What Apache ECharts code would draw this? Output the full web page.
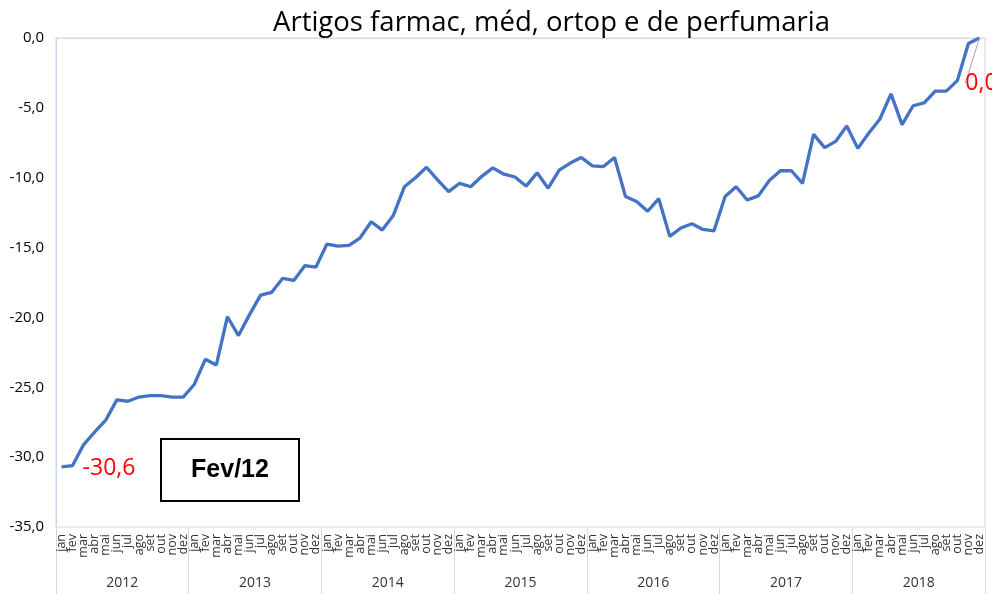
<!DOCTYPE html>
<html>
<head>
<meta charset="utf-8">
<script src="https://cdn.jsdelivr.net/npm/echarts@6/dist/echarts.min.js"></script>
<style>
html,body{margin:0;padding:0;background:#fff;}
#chart{width:992px;height:594px;}
</style>
</head>
<body>
<div id="chart"></div>
<script>
const titleText = 'Artigos farmac, méd, ortop e de perfumaria';
const monthNames = ['jan','fev','mar','abr','mai','jun','jul','ago','set','out','nov','dez'];
const years = ['2012','2013','2014','2015','2016','2017','2018'];
const yTicks = { min: -35, max: 0, interval: 5 };

const v2012 = [-30.7, -30.6, -29.1, -28.2, -27.35, -25.9, -26.0, -25.7, -25.6, -25.6, -25.7, -25.7];
const v2013 = [-24.8, -23.0, -23.4, -19.95, -21.3, -19.8, -18.4, -18.2, -17.2, -17.35, -16.3, -16.4];
const v2014 = [-14.75, -14.9, -14.85, -14.3, -13.15, -13.75, -12.7, -10.65, -10.0, -9.25, -10.15, -11.0];
const v2015 = [-10.4, -10.65, -9.9, -9.3, -9.75, -9.95, -10.6, -9.65, -10.75, -9.45, -8.95, -8.55];
const v2016 = [-9.15, -9.2, -8.55, -11.35, -11.7, -12.4, -11.5, -14.2, -13.6, -13.3, -13.7, -13.8];
const v2017 = [-11.35, -10.65, -11.6, -11.3, -10.2, -9.5, -9.5, -10.4, -6.9, -7.85, -7.4, -6.3];
const v2018 = [-7.9, -6.8, -5.8, -4.0, -6.2, -4.85, -4.65, -3.8, -3.8, -3.05, -0.4, 0.0];

const firstLabelIndex = 1;
const lastLabelIndex = 83;
const boxText = 'Fev/12';

const values = [].concat(v2012, v2013, v2014, v2015, v2016, v2017, v2018);
const categories = [];
years.forEach(() => monthNames.forEach(m => categories.push(m)));

const fmt = v => v.toFixed(1).replace('.', ',').replace('-0,0', '0,0');

const chart = echarts.init(document.getElementById('chart'));
const gridL = 56, gridR = 7, gridT = 38, gridB = 67;
const redLabel = { color: '#ff0000', fontSize: 23, fontFamily: 'Open Sans', opacity: 1 };

chart.setOption({
  animation: false,
  title: {
    text: titleText,
    left: 268, top: 4,
    textStyle: { fontFamily: 'Open Sans', fontWeight: 'normal', fontSize: 27.5, color: '#000' }
  },
  grid: { left: gridL, right: gridR, top: gridT, bottom: gridB, show: true, borderColor: '#d9d9d9', borderWidth: 1 },
  xAxis: [
    {
      type: 'category', data: categories, boundaryGap: true, position: 'bottom',
      axisLine: { show: true, lineStyle: { color: '#d9d9d9' } },
      axisTick: { show: false },
      axisLabel: { interval: 0, rotate: 90, margin: 7, fontSize: 12.5, fontFamily: 'Open Sans', color: '#333' },
      splitLine: { show: false }
    },
    {
      type: 'category', data: years, boundaryGap: true, position: 'bottom',
      axisLine: { show: false },
      axisTick: { show: true, length: 70, lineStyle: { color: '#d9d9d9' } },
      axisLabel: { margin: 49, fontSize: 14, fontFamily: 'Open Sans', color: '#333' },
      splitLine: { show: false }
    }
  ],
  yAxis: {
    type: 'value', min: yTicks.min, max: yTicks.max, interval: yTicks.interval,
    axisLine: { show: true, lineStyle: { color: '#c5d5ea' } },
    axisTick: { show: false },
    splitLine: { show: false },
    axisLabel: { margin: 12, fontSize: 15, fontFamily: 'Open Sans', color: '#000', formatter: fmt }
  },
  series: [
    {
      type: 'line', data: values, xAxisIndex: 0,
      showSymbol: false, symbol: 'none',
      lineStyle: { color: '#4472C4', width: 3.3 },
      z: 3
    },
    {
      type: 'scatter', xAxisIndex: 0, symbolSize: 0,
      itemStyle: { opacity: 1 },
      data: [[firstLabelIndex, values[firstLabelIndex]]],
      label: Object.assign({ show: true, position: 'right', distance: 10, offset: [0, 3],
        formatter: p => fmt(p.value[1]) }, redLabel),
      z: 4
    },
    {
      type: 'scatter', xAxisIndex: 0, symbolSize: 0,
      itemStyle: { opacity: 1 },
      data: [[lastLabelIndex, values[lastLabelIndex]]],
      label: Object.assign({ show: true, position: 'inside',
        formatter: p => fmt(p.value[1]) }, redLabel),
      labelLine: { show: true, lineStyle: { color: '#a6a6a6', width: 1, opacity: 1 } },
      labelLayout: { dx: 2, dy: 45 },
      z: 4
    }
  ],
  graphic: [
    {
      type: 'group', left: 160, top: 438,
      children: [
        { type: 'rect', shape: { x: 0, y: 0, width: 138, height: 62 },
          style: { fill: '#fff', stroke: '#000', lineWidth: 2 } },
        { type: 'text', x: 69, y: 31,
          style: { text: boxText, fill: '#000', font: 'bold 25px "Liberation Sans", Arial', textAlign: 'center', textVerticalAlign: 'middle' } }
      ]
    }
  ]
});
</script>
</body>
</html>
